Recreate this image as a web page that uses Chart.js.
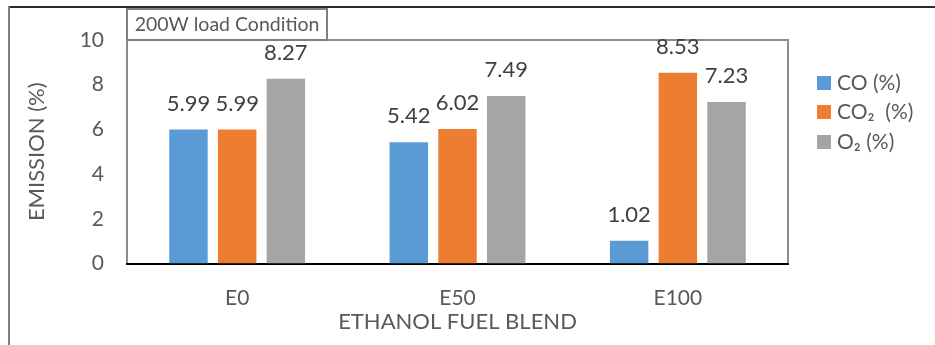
<!DOCTYPE html>
<html>
<head>
<meta charset="utf-8">
<script src="https://cdn.jsdelivr.net/npm/chart.js@4.4.1/dist/chart.umd.min.js"></script>
<style>
  html, body { margin: 0; padding: 0; background: #ffffff; }
  #wrap { position: relative; width: 935px; height: 345px; }
</style>
</head>
<body>
<div id="wrap"><canvas id="chart" width="935" height="345"></canvas></div>
<script>
// Emission readings per ethanol blend
const blends = ['E0', 'E50', 'E100'];
const coValues = [5.99, 5.42, 1.02];
const co2Values = [5.99, 6.02, 8.53];
const o2Values = [8.27, 7.49, 7.23];
const seriesNames = ['CO (%)', 'CO\u2082  (%)', 'O\u2082 (%)'];
const seriesColors = ['#5B9BD5', '#ED7D31', '#A5A5A5'];
const yTicks = [0, 2, 4, 6, 8, 10];

const FONT = 'Lato, "Open Sans", sans-serif';
const TEXT = '#595959';

// Frame, plot box, title box, value labels and legend
const decorations = {
  id: 'decorations',
  beforeDraw(chart) {
    const ctx = chart.ctx;
    const a = chart.chartArea;
    ctx.save();
    // outer frame
    ctx.strokeStyle = '#2b2b2b';
    ctx.lineWidth = 2;
    ctx.beginPath();
    ctx.moveTo(8, 7); ctx.lineTo(935, 7);
    ctx.stroke();
    ctx.strokeStyle = '#808080';
    ctx.beginPath();
    ctx.moveTo(9, 6); ctx.lineTo(9, 345);
    ctx.stroke();
    // plot area box
    ctx.strokeStyle = '#8c8c8c';
    ctx.lineWidth = 2;
    ctx.beginPath();
    ctx.moveTo(a.left, a.bottom);
    ctx.lineTo(a.left, a.top);
    ctx.lineTo(a.right, a.top);
    ctx.lineTo(a.right, a.bottom);
    ctx.stroke();
    ctx.restore();
  },
  afterDraw(chart) {
    const ctx = chart.ctx;
    const a = chart.chartArea;
    ctx.save();
    // title box
    ctx.fillStyle = '#ffffff';
    ctx.fillRect(a.left, 9, 200, a.top - 9);
    ctx.strokeStyle = '#808080';
    ctx.lineWidth = 2;
    ctx.strokeRect(a.left, 9, 200, a.top - 9);
    ctx.fillStyle = TEXT;
    ctx.font = '19.5px ' + FONT;
    ctx.textAlign = 'center';
    ctx.textBaseline = 'middle';
    ctx.fillText('200W load Condition', a.left + 100, 25);

    // value labels above bars
    ctx.fillStyle = '#404040';
    ctx.font = '22px ' + FONT;
    ctx.textAlign = 'center';
    ctx.textBaseline = 'middle';
    chart.data.datasets.forEach((ds, di) => {
      const meta = chart.getDatasetMeta(di);
      meta.data.forEach((bar, i) => {
        ctx.fillText(ds.data[i].toFixed(2), bar.x, bar.y - 26);
      });
    });

    // legend
    ctx.font = '21px ' + FONT;
    ctx.textAlign = 'left';
    const legendY = [83, 112, 142];
    chart.data.datasets.forEach((ds, di) => {
      const y = legendY[di];
      ctx.fillStyle = ds.backgroundColor;
      ctx.fillRect(817, y - 7, 14, 14);
      ctx.fillStyle = TEXT;
      ctx.fillText(ds.label, 837, y);
    });
    ctx.restore();
  }
};

new Chart(document.getElementById('chart'), {
  type: 'bar',
  data: {
    labels: blends,
    datasets: [
      { label: seriesNames[0], data: coValues, backgroundColor: seriesColors[0] },
      { label: seriesNames[1], data: co2Values, backgroundColor: seriesColors[1] },
      { label: seriesNames[2], data: o2Values, backgroundColor: seriesColors[2] }
    ]
  },
  options: {
    responsive: false,
    animation: false,
    devicePixelRatio: 1,
    categoryPercentage: 0.663,
    barPercentage: 0.79,
    layout: { padding: { left: 0, right: 147, top: 40, bottom: 0 } },
    plugins: {
      legend: { display: false },
      tooltip: { enabled: false },
      title: { display: false }
    },
    scales: {
      x: {
        grid: { display: false, drawTicks: false },
        border: { display: true, color: '#000000', width: 2 },
        ticks: { color: TEXT, font: { family: FONT, size: 21 }, padding: 22 },
        title: {
          display: true, text: 'ETHANOL FUEL BLEND', color: TEXT,
          font: { family: FONT, size: 22 }, padding: { top: 0, bottom: 10 }
        },
        afterFit(scale) { scale.height = 81.5; }
      },
      y: {
        min: 0, max: 10,
        afterBuildTicks(scale) { scale.ticks = yTicks.map(v => ({ value: v })); },
        grid: { display: false, drawTicks: false },
        border: { display: false },
        ticks: { color: TEXT, font: { family: FONT, size: 21 }, padding: 23 },
        title: {
          display: true, text: 'EMISSION (%)', color: TEXT,
          font: { family: FONT, size: 22 }, padding: { top: 24, bottom: 0 }
        },
        afterFit(scale) { scale.width = 127; }
      }
    }
  },
  plugins: [decorations]
});
</script>
</body>
</html>
